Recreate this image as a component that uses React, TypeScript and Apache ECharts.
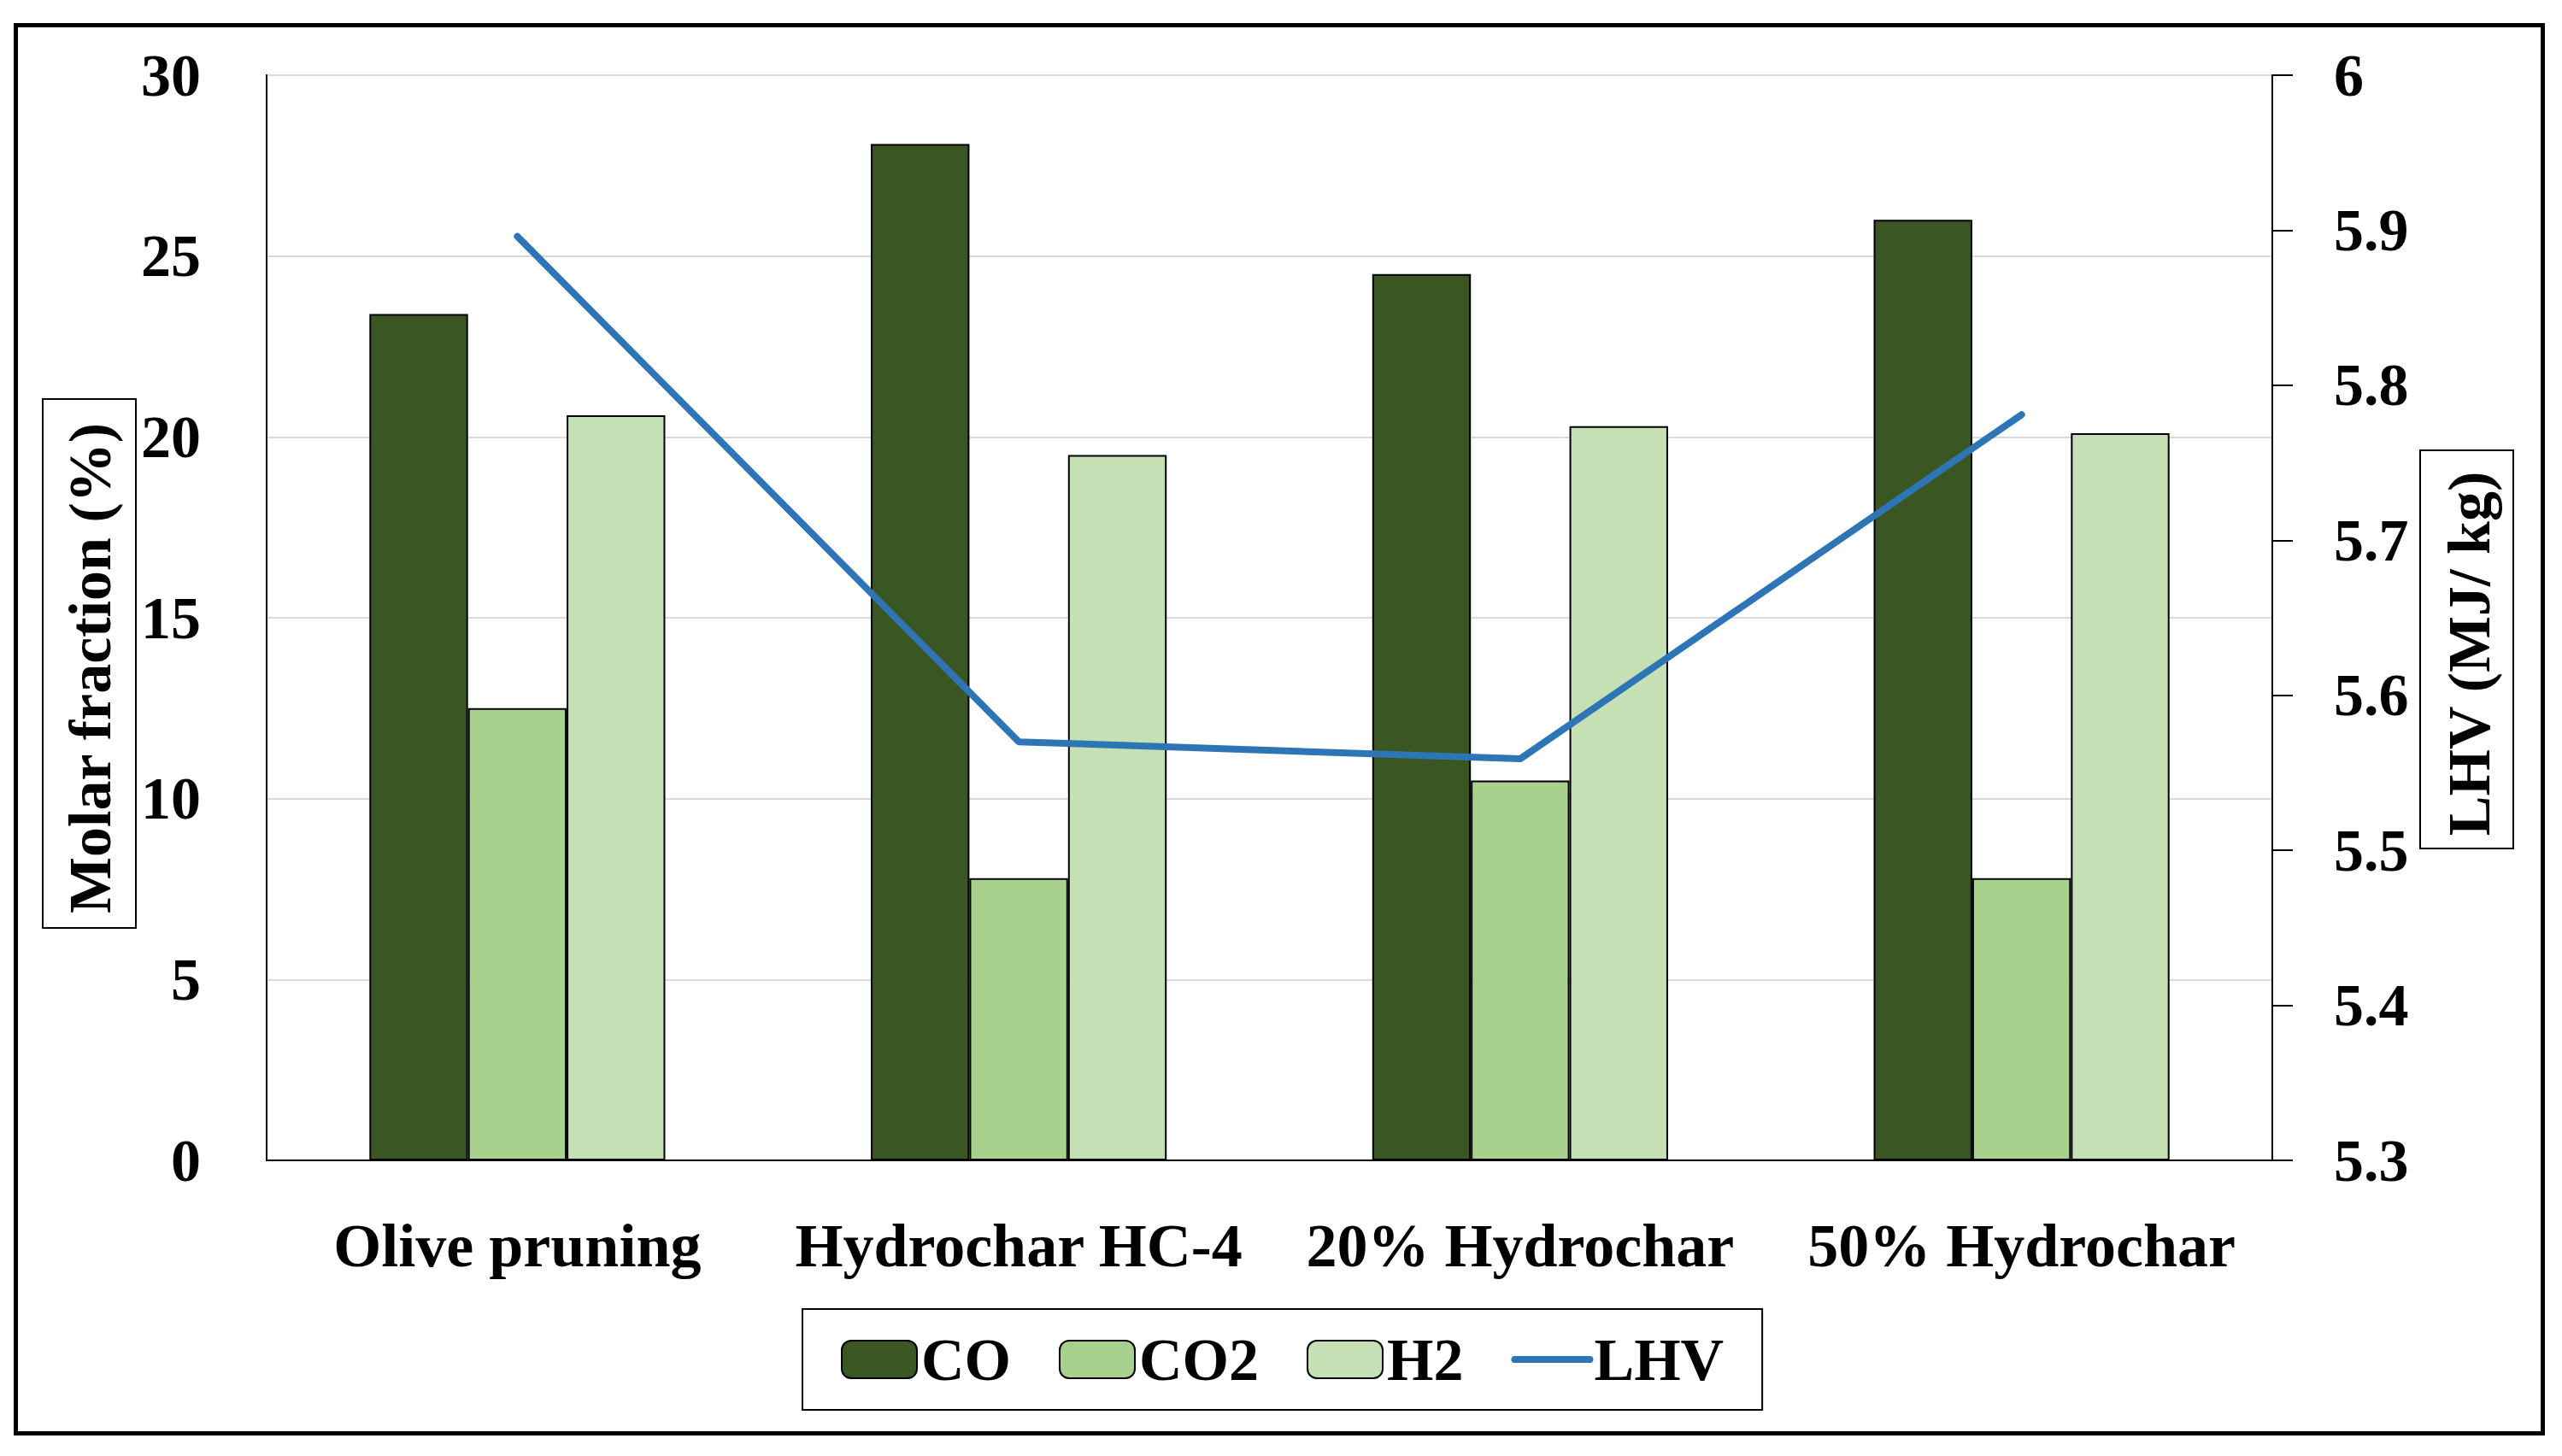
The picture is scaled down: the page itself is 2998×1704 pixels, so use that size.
import React, { useEffect, useRef } from "react";
import * as echarts from "echarts";

const categories = ["Olive pruning", "Hydrochar HC-4", "20% Hydrochar", "50% Hydrochar"];
const coValues = [23.4, 28.1, 24.5, 26.0];
const co2Values = [12.5, 7.8, 10.5, 7.8];
const h2Values = [20.6, 19.5, 20.3, 20.1];
const lhvValues = [5.896, 5.57, 5.559, 5.781];
const seriesNames = ["CO", "CO2", "H2", "LHV"];
const leftAxisTitle = "Molar fraction (%)";
const rightAxisTitle = "LHV (MJ/ kg)";

const FONT = "'Liberation Serif', 'Times New Roman', serif";
const COLORS = { co: "#3A5623", co2: "#A9D18E", h2: "#C5E0B4", lhv: "#2E75B6" };

export default function App() {
  const ref = useRef<HTMLDivElement>(null);

  useEffect(() => {
    if (!ref.current) return;
    const chart = echarts.init(ref.current, null, { renderer: "svg" });
    const barItem = (color: string) => ({ color, borderColor: "#000", borderWidth: 2 });
    const legendData = seriesNames.map((name) =>
      name === "LHV"
        ? { name, itemStyle: { opacity: 0 }, lineStyle: { width: 8, color: COLORS.lhv, cap: "round" } }
        : { name }
    );
    const option: any = {
      animation: false,
      backgroundColor: "#fff",
      textStyle: { fontFamily: FONT },
      grid: {
        left: 312,
        right: 339,
        top: 88,
        bottom: 346,
        show: true,
        borderColor: "#000",
        borderWidth: 2,
        containLabel: false,
        outerBoundsMode: "none",
      },
      legend: {
        data: legendData,
        left: 939,
        top: 1532,
        padding: [24, 45, 24, 45],
        borderColor: "#000",
        borderWidth: 2,
        itemWidth: 88,
        itemHeight: 44,
        itemGap: 56,
        textStyle: { fontFamily: FONT, fontWeight: "bold", fontSize: 70, color: "#000" },
      },
      xAxis: {
        type: "category",
        data: categories,
        axisLine: { show: true, lineStyle: { color: "#000", width: 2 } },
        axisTick: { show: false },
        axisLabel: {
          interval: 0,
          fontFamily: FONT,
          fontWeight: "bold",
          fontSize: 72,
          color: "#000",
          margin: 64,
        },
      },
      yAxis: [
        {
          type: "value",
          min: 0,
          max: 30,
          interval: 5,
          position: "left",
          axisLine: { show: true, lineStyle: { color: "#000", width: 2 } },
          axisTick: { show: false },
          splitLine: { show: true, lineStyle: { color: "#d9d9d9", width: 2 } },
          axisLabel: { fontFamily: FONT, fontWeight: "bold", fontSize: 70, color: "#000", margin: 77 },
        },
        {
          type: "value",
          min: 5.3,
          max: 6,
          interval: 0.1,
          position: "right",
          axisLine: { show: true, lineStyle: { color: "#000", width: 2 } },
          axisTick: { show: true, inside: false, length: 24, lineStyle: { color: "#000", width: 2 } },
          splitLine: { show: false },
          axisLabel: {
            fontFamily: FONT,
            fontWeight: "bold",
            fontSize: 70,
            color: "#000",
            margin: 72,
            formatter: (v: number) => String(Number(v.toFixed(1))),
          },
        },
      ],
      series: [
        {
          name: "CO",
          type: "bar",
          data: coValues,
          barGap: "0%",
          barCategoryGap: "41%",
          itemStyle: barItem(COLORS.co),
        },
        { name: "CO2", type: "bar", data: co2Values, itemStyle: barItem(COLORS.co2) },
        { name: "H2", type: "bar", data: h2Values, itemStyle: barItem(COLORS.h2) },
        {
          name: "LHV",
          type: "line",
          yAxisIndex: 1,
          data: lhvValues,
          symbol: "none",
          z: 5,
          itemStyle: { color: COLORS.lhv },
          lineStyle: { color: COLORS.lhv, width: 8, cap: "round", join: "round" },
        },
      ],
      graphic: [
        {
          type: "rect",
          shape: { x: 18.5, y: 29.5, width: 2957, height: 1648 },
          style: { fill: "none", stroke: "#000", lineWidth: 5 },
          silent: true,
        },
        {
          type: "rect",
          shape: { x: 50, y: 467, width: 109, height: 619 },
          style: { fill: "#fff", stroke: "#000", lineWidth: 2 },
          silent: true,
        },
        {
          type: "text",
          x: 105,
          y: 782,
          rotation: Math.PI / 2,
          style: {
            text: leftAxisTitle,
            fontFamily: FONT,
            fontWeight: "bold",
            fontSize: 70,
            fill: "#000",
            textAlign: "center",
            textVerticalAlign: "middle",
          },
          silent: true,
        },
        {
          type: "rect",
          shape: { x: 2832, y: 527, width: 109, height: 466 },
          style: { fill: "#fff", stroke: "#000", lineWidth: 2 },
          silent: true,
        },
        {
          type: "text",
          x: 2889,
          y: 765,
          rotation: Math.PI / 2,
          style: {
            text: rightAxisTitle,
            fontFamily: FONT,
            fontWeight: "bold",
            fontSize: 70,
            fill: "#000",
            textAlign: "center",
            textVerticalAlign: "middle",
          },
          silent: true,
        },
      ],
    };
    chart.setOption(option);
    return () => chart.dispose();
  }, []);

  return (
    <div
      ref={ref}
      style={{ position: "absolute", left: 0, top: 0, width: 2998, height: 1704, background: "#fff" }}
    />
  );
}
